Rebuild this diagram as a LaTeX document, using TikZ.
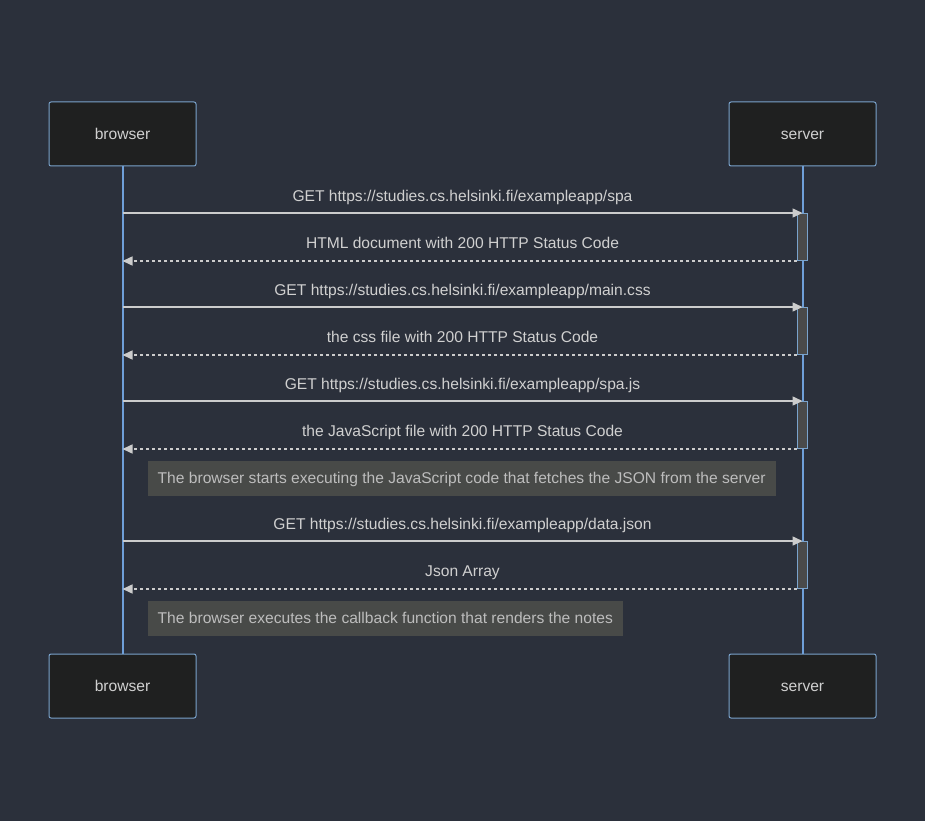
\documentclass[tikz,border=0pt]{standalone}
\usepackage{fontspec}
\setmainfont{Liberation Sans}
\usetikzlibrary{calc}
\usetikzlibrary{positioning}
\usetikzlibrary{arrows.meta}
\definecolor{bgcol}{HTML}{2B303B}
\definecolor{actorfill}{HTML}{1F2020}
\definecolor{actorline}{HTML}{7AA3CC}
\definecolor{lifecol}{HTML}{6F9FD8}
\definecolor{actfill}{HTML}{4A4A4A}
\definecolor{arrowcol}{HTML}{CCCCCC}
\definecolor{msgtext}{HTML}{D0D0D0}
\definecolor{notefill}{HTML}{484A48}
\definecolor{notetext}{HTML}{BDBDBD}
\tikzstyle{actor} = [draw=actorline, fill=actorfill, rounded corners=2, line width=1, minimum width=147, minimum height=64, text=msgtext, font=\fontsize{15.6}{19}\selectfont, text height=12, text depth=1]
\tikzstyle{lifeline} = [draw=lifecol, line width=2]
\tikzstyle{activation} = [draw=actorline, fill=actfill, line width=1, minimum width=10, minimum height=47, inner sep=0]
\tikzstyle{msg} = [draw=arrowcol, line width=1.5, -{Triangle[length=10pt, width=9pt]}]
\tikzstyle{reply} = [msg, dash pattern=on 3pt off 3pt]
\tikzstyle{msglabel} = [text=msgtext, font=\fontsize{15.6}{19}\selectfont, inner sep=0, text height=10.5, text depth=3.5]
\tikzstyle{note} = [fill=notefill, text=notetext, font=\fontsize{15.6}{19}\selectfont, inner xsep=10, minimum height=35, text height=12, text depth=1, anchor=north west]

\begin{document}
\begin{tikzpicture}[x=1pt, y=-1pt]
\fill[bgcol] (0,0) rectangle (925,821);
\useasboundingbox (0,0) rectangle (925,821);

\node[actor] (browserTop) at (122.5,134) {browser};
\node[actor] (serverTop) at ($(browserTop)+(680,0)$) {server};
\node[actor] (browserBot) at ($(browserTop)+(0,552)$) {browser};
\node[actor] (serverBot) at ($(serverTop)+(0,552)$) {server};
\draw[lifeline] (browserTop) -- (browserBot);
\draw[lifeline] (serverTop) -- (serverBot);

% activations on the server
\node[activation, anchor=north] (act1) at (serverTop.south |- 0,213) {};
\node[activation, anchor=north] (act2) at ($(act1.north)+(0,94)$) {};
\node[activation, anchor=north] (act3) at ($(act2.north)+(0,94)$) {};
\node[activation, anchor=north] (act4) at ($(act3.north)+(0,140)$) {};

% requests and replies
\coordinate (req1) at (browserTop.south |- act1.north);
\coordinate (res1) at (browserTop.south |- act1.south);
\draw[msg] (req1) -- (act1.north);
\draw[reply] (act1.south west) -- (res1);
\node[msglabel] (req1_lbl) at ($(req1)!0.5!(act1.north)+(0,-15.5)$) {GET https://studies.cs.helsinki.fi/exampleapp/spa};
\node[msglabel] (res1_lbl) at ($(res1)!0.5!(act1.south)+(0,-16)$) {HTML document with 200 HTTP Status Code};

\coordinate (req2) at (browserTop.south |- act2.north);
\coordinate (res2) at (browserTop.south |- act2.south);
\draw[msg] (req2) -- (act2.north);
\draw[reply] (act2.south west) -- (res2);
\node[msglabel] (req2_lbl) at ($(req2)!0.5!(act2.north)+(0,-15.5)$) {GET https://studies.cs.helsinki.fi/exampleapp/main.css};
\node[msglabel] (res2_lbl) at ($(res2)!0.5!(act2.south)+(0,-16)$) {the css file with 200 HTTP Status Code};

\coordinate (req3) at (browserTop.south |- act3.north);
\coordinate (res3) at (browserTop.south |- act3.south);
\draw[msg] (req3) -- (act3.north);
\draw[reply] (act3.south west) -- (res3);
\node[msglabel] (req3_lbl) at ($(req3)!0.5!(act3.north)+(0,-15.5)$) {GET https://studies.cs.helsinki.fi/exampleapp/spa.js};
\node[msglabel] (res3_lbl) at ($(res3)!0.5!(act3.south)+(0,-16)$) {the JavaScript file with 200 HTTP Status Code};

\node[note] (note1) at ($(res3)+(25,11.5)$) {The browser starts executing the JavaScript code that fetches the JSON from the server};

\coordinate (req4) at (browserTop.south |- act4.north);
\coordinate (res4) at (browserTop.south |- act4.south);
\draw[msg] (req4) -- (act4.north);
\draw[reply] (act4.south west) -- (res4);
\node[msglabel] (req4_lbl) at ($(req4)!0.5!(act4.north)+(0,-15.5)$) {GET https://studies.cs.helsinki.fi/exampleapp/data.json};
\node[msglabel] (res4_lbl) at ($(res4)!0.5!(act4.south)+(0,-16)$) {Json Array};

\node[note] (note2) at ($(res4)+(25,11.5)$) {The browser executes the callback function that renders the notes};
\end{tikzpicture}
\end{document}
